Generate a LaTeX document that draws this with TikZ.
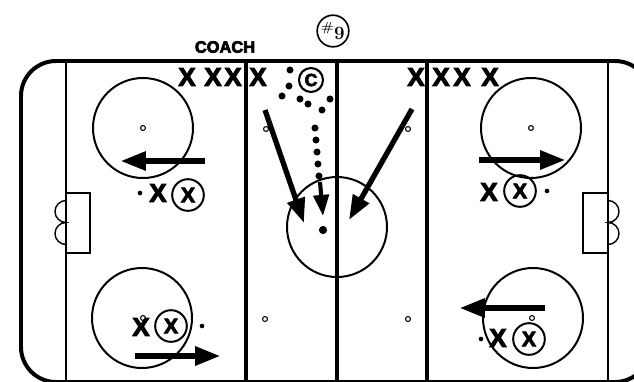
\documentclass[tikz,border=0pt]{standalone}
\usepackage{fontspec}
\setsansfont{Liberation Sans}
\newfontfamily\heavysans[UprightFeatures={FakeBold=4}, BoldFeatures={FakeBold=4}]{Liberation Sans}
\usetikzlibrary{arrows.meta}

\tikzset{
  board/.style={line width=3.4pt},
  thinline/.style={line width=1.7pt},
  thickline/.style={line width=4.2pt},
  spot/.style={draw, circle, line width=0.9pt, inner sep=0pt, minimum size=4.2pt},
  skate/.style={line width=5.5pt, -{Triangle[length=22pt,width=15pt]}},
  shot/.style={line width=4.5pt, -{Triangle[length=21pt,width=15pt]}},
  wing/.style={inner sep=0pt, font=\heavysans\bfseries\fontsize{22}{22}\selectfont},
  center/.style={draw, circle, line width=1.7pt, minimum size=27pt, inner sep=0pt,
    font=\heavysans\bfseries\fontsize{18}{18}\selectfont},
  puck/.style={fill, circle, inner sep=0pt, minimum size=#1},
  puck/.default=4pt
}

\begin{document}
\begin{tikzpicture}[x=0.03cm, y=-0.03cm]
\useasboundingbox (0,0) rectangle (634,381);
\clip (0,0) rectangle (634,381);

% rink
\draw[board, rounded corners=1.05cm] (21,61) rectangle (650,382);
\draw[thinline] (66,61) -- (66,382);
\draw[thinline] (608,61) -- (608,382);
\foreach \x in {246,337,427}
  \draw[thickline] (\x,61) -- (\x,382);

% goals
\draw[line width=1.2pt] (66,193) rectangle (90,253);
\draw[line width=1.2pt] (583,193) rectangle (608,253);
\draw[line width=1.2pt] (66,200.5) arc[start angle=270, end angle=90, radius=11]
                              arc[start angle=270, end angle=90, radius=11];
\draw[line width=1.2pt] (608,200.5) arc[start angle=270, end angle=450, radius=11]
                               arc[start angle=270, end angle=450, radius=11];

% circles and spots
\draw[thinline] (337,227) circle[radius=50];
\foreach \x/\y in {143/128, 531/128, 142/318, 533/318}
  \draw[thinline] (\x,\y) circle[radius=50];
\foreach \x/\y [count=\i] in {143/128, 531/128, 143/318, 532/318, 266/129, 408/129, 265/319, 408/319}
  \node[spot] (s\i) at (\x,\y) {};

% bench
\node[inner sep=0pt, font=\heavysans\bfseries\fontsize{14}{14}\selectfont] (coach) at (225,47) {COACH};
\foreach \x [count=\i] in {187,213,233,258}
  \node[wing] (l\i) at (\x,77) {X};
\foreach \x [count=\i] in {416,441,462,490}
  \node[wing] (r\i) at (\x,77) {X};
\node[draw, circle, line width=1.8pt, minimum size=20.5pt, inner sep=0pt,
  font=\heavysans\bfseries\fontsize{15}{15}\selectfont] (cc) at (311,80) {C};
\node[draw, circle, line width=1.4pt, minimum size=27pt, inner sep=0pt,
  font=\bfseries\fontsize{16}{16}\selectfont] (nine) at (333,31) {\textsuperscript{\#}9};

% players
\node[puck] (p1) at (140,193) {};
\node[wing] (x1) at (158,193) {X};
\node[center] (c1) at (188,195) {X};
\node[wing] (x2) at (489,192) {X};
\node[center] (c2) at (520,191) {X};
\node[puck] (p2) at (547,191) {};
\node[wing] (x3) at (141,327) {X};
\node[center] (c3) at (171,326) {X};
\node[puck] (p3) at (202,326) {};
\node[puck] (p4) at (481,339) {};
\node[wing] (x4) at (498,338) {X};
\node[center] (c4) at (529,339) {X};

% skating lanes
\coordinate (a1) at (205,161); \coordinate (b1) at (120,161);
\coordinate (a2) at (479,160); \coordinate (b2) at (566,160);
\coordinate (a3) at (135,356); \coordinate (b3) at (221,356);
\coordinate (a4) at (545,308); \coordinate (b4) at (459,308);
\coordinate (a5) at (265,110); \coordinate (b5) at (304,223);
\coordinate (a6) at (412,109); \coordinate (b6) at (349,220);
\foreach \i in {1,...,4}
  \draw[skate] (a\i) -- (b\i);
\draw[shot] (a5) -- (b5);
\draw[shot] (a6) -- (b6);

% puck path
\foreach \x/\y [count=\i] in {290/70, 289/86, 282/96, 300/99, 308/104, 322/110, 330/99,
    315/128, 316/140, 317/152, 318/164, 319/176}
  \node[puck=6pt] (d\i) at (\x,\y) {};
\coordinate (e1) at (320,182);
\coordinate (e2) at (323,216);
\draw[line width=3.5pt, -{Triangle[length=18pt,width=13pt]}] (e1) -- (e2);
\node[puck=7pt] (goal) at (323,230) {};

\end{tikzpicture}
\end{document}
